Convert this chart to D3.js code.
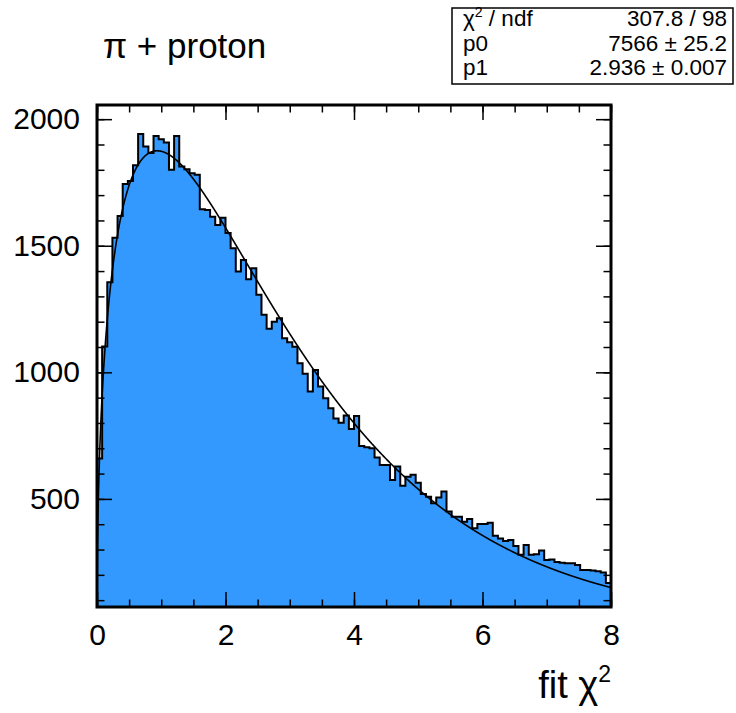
<!DOCTYPE html>
<html>
<head>
<meta charset="utf-8">
<script src="https://cdn.jsdelivr.net/npm/d3@7"></script>
<style>
  body { margin: 0; background: #fff; }
  svg { display: block; font-family: "Liberation Sans", Arial, sans-serif; }
</style>
</head>
<body>
<div id="chart"></div>
<script>
// histogram: 100 bins from 0 to 8
var binLow = 0, binHigh = 8;
var binCounts = [
  660, 1102, 1356, 1532, 1618, 1744, 1756, 1818, 1941, 1892,
  1866, 1934, 1921, 1908, 1800, 1934, 1813, 1802, 1786, 1780,
  1644, 1641, 1615, 1582, 1611, 1550, 1490, 1398, 1444, 1368,
  1411, 1306, 1227, 1172, 1200, 1214, 1135, 1119, 1101, 1036,
  994, 924, 1009, 944, 898, 858, 818, 801, 829, 776,
  827, 709, 704, 700, 664, 634, 634, 575, 628, 552,
  588, 595, 564, 519, 509, 483, 506, 529, 450, 430,
  430, 410, 421, 384, 401, 401, 406, 354, 344, 334,
  338, 314, 279, 318, 279, 281, 296, 259, 261, 251,
  248, 246, 246, 239, 219, 219, 217, 214, 209, 168
];
var xTickLabels = [0, 2, 4, 6, 8];
var yTickLabels = [500, 1000, 1500, 2000];
var yRange = [73, 2056];

// fit result (chi2 pdf times p0)
var fitP0 = 7566, fitP1 = 2.936;
var statsRows = [
  ["χ", "2", " / ndf", "307.8 / 98"],
  ["p0", "", "", "7566 ± 25.2"],
  ["p1", "", "", "2.936 ± 0.007"]
];
var titleText = "π + proton";

var W = 736, H = 713;
var padL = 97, padR = 611, padT = 105, padB = 607;
var width = padR - padL, height = padB - padT;

var svg = d3.select("#chart").append("svg")
  .attr("width", W).attr("height", H);

var x = d3.scaleLinear().domain([binLow, binHigh]).range([0, width]);
var y = d3.scaleLinear().domain(yRange).range([height, 0]);

var g = svg.append("g").attr("transform", "translate(" + padL + "," + padT + ")");

g.append("clipPath").attr("id", "clip")
  .append("rect").attr("width", width).attr("height", height);

var nb = binCounts.length;
var bw = (binHigh - binLow) / nb;

// step outline of the histogram
var pts = [[x(binLow), height]];
binCounts.forEach(function(v, i){
  pts.push([x(binLow + i * bw), y(v)]);
  pts.push([x(binLow + (i + 1) * bw), y(v)]);
});
pts.push([x(binHigh), height]);

g.append("path")
  .attr("clip-path", "url(#clip)")
  .attr("d", d3.line()(pts) + "Z")
  .attr("fill", "#3399ff")
  .attr("stroke", "#000")
  .attr("stroke-width", 2)
  .attr("stroke-linejoin", "miter");

function gamma(z){
  var c = [0.99999999999980993, 676.5203681218851, -1259.1392167224028,
    771.32342877765313, -176.61502916214059, 12.507343278686905,
    -0.13857109526572012, 9.9843695780195716e-6, 1.5056327351493116e-7];
  if (z < 0.5) return Math.PI / (Math.sin(Math.PI * z) * gamma(1 - z));
  z -= 1;
  var a = c[0];
  for (var i = 1; i < 9; i++) a += c[i] / (z + i);
  var t = z + 7.5;
  return Math.sqrt(2 * Math.PI) * Math.pow(t, z + 0.5) * Math.exp(-t) * a;
}
function fitFunc(v){
  var k = fitP1 / 2;
  return fitP0 * Math.pow(v, k - 1) * Math.exp(-v / 2) / (Math.pow(2, k) * gamma(k));
}

var xs = d3.range(0, 2000).map(function(i){ return binLow + (binHigh - binLow) * i / 1999; });
g.append("path")
  .attr("clip-path", "url(#clip)")
  .datum(xs)
  .attr("d", d3.line().x(function(d){ return x(d); }).y(function(d){ return y(fitFunc(d)); }))
  .attr("fill", "none")
  .attr("stroke", "#000")
  .attr("stroke-width", 1.6);

// axes, ticks inside on all four sides
var major = 15, minor = 7.5;
var xMinor = d3.range(0, 8.001, 0.5);
var yMinor = d3.range(100, 2001, 100);
var labelFont = 30;

function noDomain(sel){ sel.select(".domain").remove(); sel.selectAll("line").attr("stroke-width", 1.5); }

g.append("g").attr("transform", "translate(0," + height + ")")
  .call(d3.axisBottom(x).tickValues(xMinor).tickSize(-minor).tickFormat("")).call(noDomain);
g.append("g").attr("transform", "translate(0," + height + ")")
  .call(d3.axisBottom(x).tickValues(xTickLabels).tickSize(-major).tickPadding(17).tickFormat(d3.format("d")))
  .call(noDomain)
  .selectAll("text").attr("font-size", labelFont).attr("fill", "#000").attr("font-family", "Liberation Sans, Arial, sans-serif");
g.append("g")
  .call(d3.axisTop(x).tickValues(xMinor).tickSize(-minor).tickFormat("")).call(noDomain);
g.append("g")
  .call(d3.axisTop(x).tickValues(xTickLabels).tickSize(-major).tickFormat("")).call(noDomain);

g.append("g")
  .call(d3.axisLeft(y).tickValues(yMinor).tickSize(-minor).tickFormat("")).call(noDomain);
g.append("g")
  .call(d3.axisLeft(y).tickValues(yTickLabels).tickSize(-major).tickPadding(17).tickFormat(d3.format("d")))
  .call(noDomain)
  .selectAll("text").attr("font-size", labelFont).attr("fill", "#000").attr("font-family", "Liberation Sans, Arial, sans-serif");
g.append("g").attr("transform", "translate(" + width + ",0)")
  .call(d3.axisRight(y).tickValues(yMinor).tickSize(-minor).tickFormat("")).call(noDomain);
g.append("g").attr("transform", "translate(" + width + ",0)")
  .call(d3.axisRight(y).tickValues(yTickLabels).tickSize(-major).tickFormat("")).call(noDomain);

g.append("rect")
  .attr("width", width).attr("height", height)
  .attr("fill", "none").attr("stroke", "#000").attr("stroke-width", 3);

// title
svg.append("text")
  .attr("x", 103).attr("y", 58)
  .attr("font-size", 35)
  .text(titleText);

// x axis title
var xt = svg.append("text")
  .attr("x", padR).attr("y", 698)
  .attr("text-anchor", "end")
  .attr("font-size", 38);
xt.append("tspan").text("fit χ");
xt.append("tspan").attr("font-size", 23).attr("dy", -16).text("2");

// stats box
var box = svg.append("g");
box.append("rect")
  .attr("x", 452).attr("y", 8).attr("width", 281).attr("height", 76)
  .attr("fill", "#fff").attr("stroke", "#000").attr("stroke-width", 1.5);
var rowY = [26, 51, 75];
statsRows.forEach(function(r, i){
  var t = box.append("text").attr("x", 463).attr("y", rowY[i]).attr("font-size", 22.5);
  t.append("tspan").text(r[0]);
  if (r[1]) t.append("tspan").attr("font-size", 14).attr("dy", -9).text(r[1]);
  if (r[2]) t.append("tspan").attr("dy", r[1] ? 9 : 0).text(r[2]);
  box.append("text").attr("x", 727).attr("y", rowY[i]).attr("font-size", 22.5)
    .attr("text-anchor", "end").text(r[3]);
});
</script>
</body>
</html>
